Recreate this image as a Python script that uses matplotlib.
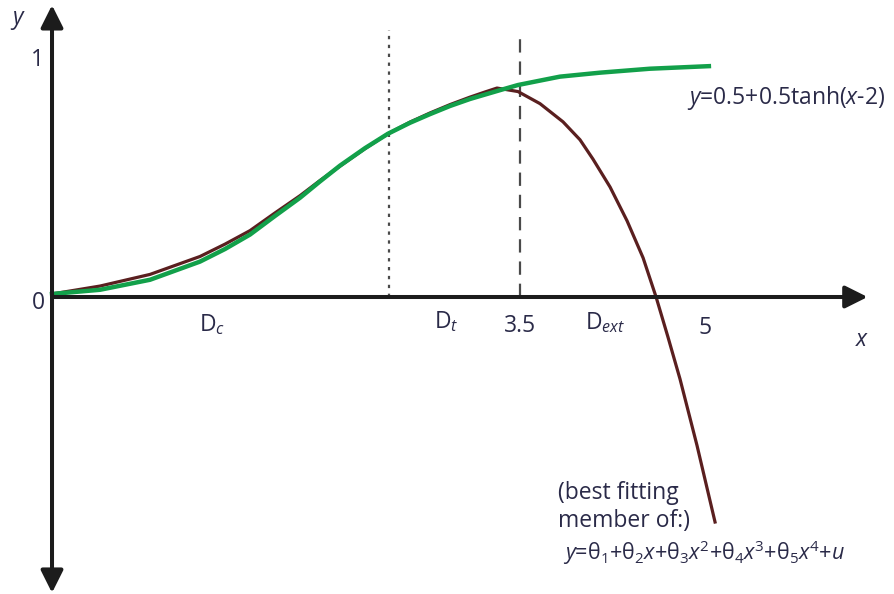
import matplotlib
matplotlib.use('Agg')
import matplotlib.pyplot as plt

# curves
green_x = [0.000, 0.359, 0.733, 1.107, 1.294, 1.481, 1.668, 1.855, 2.004, 2.154, 2.341, 2.513,
           2.678, 2.827, 2.977, 3.126, 3.351, 3.485, 3.650, 3.799, 4.098, 4.472, 4.913]
green_y = [0.013, 0.031, 0.074, 0.152, 0.206, 0.268, 0.348, 0.426, 0.496, 0.564, 0.639, 0.701,
           0.748, 0.785, 0.820, 0.850, 0.888, 0.910, 0.929, 0.946, 0.963, 0.980, 0.991]

brown_x = [0.000, 0.359, 0.733, 1.107, 1.294, 1.481, 1.668, 1.855, 2.004, 2.154, 2.341, 2.513,
           2.678, 2.827, 2.977, 3.126, 3.238, 3.328, 3.485, 3.650, 3.822, 3.949, 4.046, 4.174,
           4.301, 4.421, 4.518, 4.607, 4.697, 4.824, 4.959]
brown_y = [0.013, 0.047, 0.097, 0.174, 0.227, 0.285, 0.361, 0.435, 0.500, 0.562, 0.637, 0.701,
           0.751, 0.790, 0.826, 0.858, 0.880, 0.897, 0.882, 0.830, 0.752, 0.675, 0.592, 0.472,
           0.327, 0.168, 0.000, -0.172, -0.352, -0.637, -0.966]

x_dotted = 2.52
x_dashed = 3.5
tick_labels = ['3.5', '5']

plt.rcParams['font.family'] = ['Open Sans', 'DejaVu Sans']
plt.rcParams['mathtext.fontset'] = 'custom'
plt.rcParams['mathtext.rm'] = 'Open Sans'
plt.rcParams['mathtext.it'] = 'Open Sans:italic'

txt = '#2a2a48'
axc = '#1c1c1c'

fig = plt.figure(figsize=(8.95, 5.94), dpi=100)
ax = fig.add_axes([0, 0, 1, 1])
ax.set_xlim(-0.389, 6.305)
ax.set_ylim(-1.275, 1.275)
ax.axis('off')

# axes with arrows
ax.annotate('', xy=(6.10, 0), xytext=(0, 0),
            arrowprops=dict(arrowstyle='-|>', lw=2.9, color=axc, mutation_scale=34,
                            shrinkA=0, shrinkB=0))
ax.annotate('', xy=(0, 1.253), xytext=(0, -1.270),
            arrowprops=dict(arrowstyle='<|-|>', lw=2.9, color=axc, mutation_scale=34,
                            shrinkA=0, shrinkB=0))

# domain boundaries
ax.plot([x_dotted, x_dotted], [0, 1.146], color='#4a4a4a', lw=1.6, ls=(0, (1.5, 2.5)))
ax.plot([x_dashed, x_dashed], [0, 1.137], color='#4a4a4a', lw=1.6, ls=(0, (6, 4)))

ax.plot(brown_x, brown_y, color='#5a1f1f', lw=2.3, solid_joinstyle='round')
ax.plot(green_x, green_y, color='#12a04a', lw=3.2, solid_joinstyle='round')

fs = 16.5
ax.text(-0.254, 1.189, '$y$', fontsize=fs, color=txt, ha='center', va='center')
ax.text(-0.112, 1.017, '1', fontsize=fs, color=txt, ha='center', va='center')
ax.text(-0.105, -0.026, '0', fontsize=fs, color=txt, ha='center', va='center')
ax.text(1.197, -0.120, r'D$_{\mathit{c}}$', fontsize=fs, color=txt, ha='center', va='center')
ax.text(2.947, -0.107, r'D$_{\mathit{t}}$', fontsize=fs, color=txt, ha='center', va='center')
ax.text(3.50, -0.124, tick_labels[0], fontsize=fs, color=txt, ha='center', va='center')
ax.text(4.136, -0.112, r'D$_{\mathit{ext}}$', fontsize=fs, color=txt, ha='center', va='center')
ax.text(4.884, -0.133, tick_labels[1], fontsize=fs, color=txt, ha='center', va='center')
ax.text(6.058, -0.185, '$x$', fontsize=fs, color=txt, ha='center', va='center')

ax.text(4.749, 0.854, '$y$=0.5+0.5tanh($x$-2)', fontsize=fs, color=txt, ha='left', va='center')
ax.text(3.785, -0.790, '(best fitting\nmember of:)', fontsize=fs, color=txt, ha='left', va='top',
        linespacing=1.2)
ax.text(3.822, -1.099, r'$y$=θ$_1$+θ$_2$$x$+θ$_3$$x^2$+θ$_4$$x^3$+θ$_5$$x^4$+$u$',
        fontsize=15.5, color=txt, ha='left', va='center')

fig.savefig('out.png', dpi=100, facecolor='white')
